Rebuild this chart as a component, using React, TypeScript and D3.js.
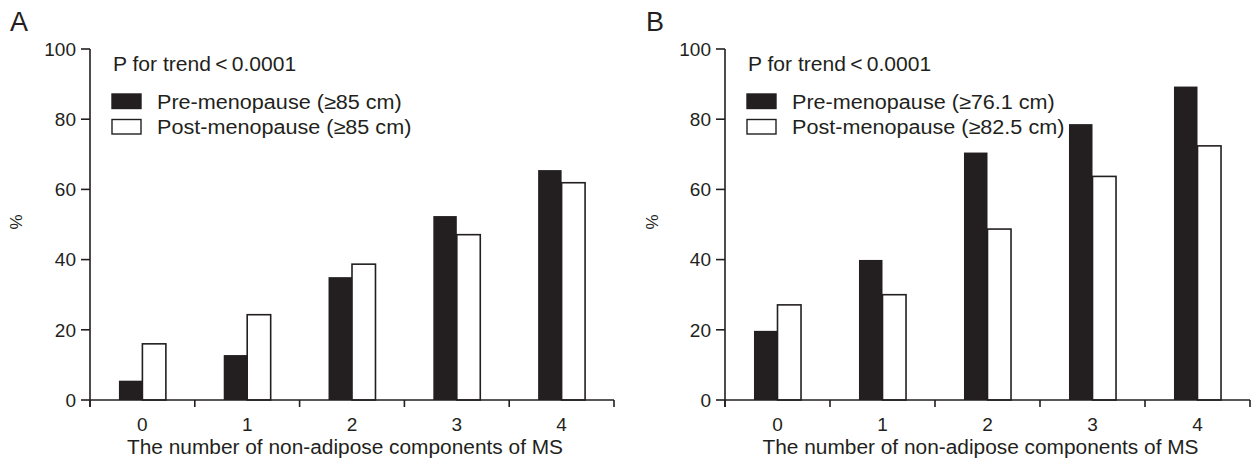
import { useEffect, useRef } from "react";
import { select, scaleBand, scaleLinear } from "d3";

const categories = ["0", "1", "2", "3", "4"];
const yTicks = [0, 20, 40, 60, 80, 100];

const preA = [5.5, 12.8, 35.0, 52.4, 65.5];
const postA = [16.0, 24.3, 38.7, 47.1, 61.9];
const preB = [19.7, 39.9, 70.5, 78.6, 89.3];
const postB = [27.1, 30.0, 48.7, 63.7, 72.4];

const legendA = ["Pre-menopause (\u226585 cm)", "Post-menopause (\u226585 cm)"];
const legendB = ["Pre-menopause (\u226576.1 cm)", "Post-menopause (\u226582.5 cm)"];

const trendText = "P for trend\u2009<\u20090.0001";
const xTitle = "The number of non-adipose components of MS";

const W = 1257;
const H = 460;
const INK = "#231f20";
const FONT = "'Liberation Sans', Arial, sans-serif";

const panels = [
  { letter: "A", left: 90, right: 614, pre: preA, post: postA, legend: legendA, letterX: 10, ylabX: 22 },
  { letter: "B", left: 725, right: 1250, pre: preB, post: postB, legend: legendB, letterX: 646, ylabX: 658 },
];

// the source font is a bit wider than Liberation Sans, so stretch text horizontally
function stretch(sel: any, k: number) {
  const node = sel.node() as SVGTextElement;
  const len = node.getComputedTextLength();
  sel.attr("textLength", len * k).attr("lengthAdjust", "spacingAndGlyphs");
}

export default function App() {
  const svgRef = useRef<SVGSVGElement>(null);

  useEffect(() => {
    const svg = select(svgRef.current);
    svg.selectAll("*").remove();

    const y = scaleLinear().domain([0, 100]).range([400, 49]);

    panels.forEach(p => {
      const g = svg.append("g");
      const x = scaleBand().domain(categories).range([p.left, p.right]).padding(0);
      const bw = x.bandwidth();
      const half = bw * 0.224;
      const sub = scaleBand().domain(["pre", "post"]).range([bw / 2 - half, bw / 2 + half]).padding(0);

      // panel letter
      g.append("text")
        .attr("x", p.letterX)
        .attr("y", 31)
        .attr("font-size", 27)
        .attr("font-family", FONT)
        .attr("fill", INK)
        .text(p.letter);

      // bars
      categories.forEach((c, i) => {
        g.append("rect")
          .attr("x", x(c)! + sub("pre")!)
          .attr("y", y(p.pre[i]))
          .attr("width", sub.bandwidth())
          .attr("height", y(0) - y(p.pre[i]))
          .attr("fill", INK);
        g.append("rect")
          .attr("x", x(c)! + sub("post")!)
          .attr("y", y(p.post[i]))
          .attr("width", sub.bandwidth())
          .attr("height", y(0) - y(p.post[i]))
          .attr("fill", "#fff")
          .attr("stroke", INK)
          .attr("stroke-width", 1.6);
      });

      // y axis
      g.append("line")
        .attr("x1", p.left).attr("x2", p.left)
        .attr("y1", y(100)).attr("y2", y(0) + 7)
        .attr("stroke", INK).attr("stroke-width", 1.6);
      yTicks.forEach(t => {
        g.append("line")
          .attr("x1", p.left - 9).attr("x2", p.left)
          .attr("y1", y(t)).attr("y2", y(t))
          .attr("stroke", INK).attr("stroke-width", 1.6);
        g.append("text")
          .attr("x", p.left - 14)
          .attr("y", y(t))
          .attr("dy", "0.36em")
          .attr("text-anchor", "end")
          .attr("font-size", 19)
          .attr("font-family", FONT)
          .attr("fill", INK)
          .text(t);
      });

      // x axis
      g.append("line")
        .attr("x1", p.left).attr("x2", p.right)
        .attr("y1", y(0)).attr("y2", y(0))
        .attr("stroke", INK).attr("stroke-width", 1.6);
      [...categories.map(c => x(c)!), p.right].forEach(bx => {
        g.append("line")
          .attr("x1", bx).attr("x2", bx)
          .attr("y1", y(0)).attr("y2", y(0) + 7)
          .attr("stroke", INK).attr("stroke-width", 1.6);
      });
      categories.forEach(c => {
        g.append("text")
          .attr("x", x(c)! + bw / 2)
          .attr("y", 431)
          .attr("text-anchor", "middle")
          .attr("font-size", 19)
          .attr("font-family", FONT)
          .attr("fill", INK)
          .text(c);
      });
      const title = g.append("text")
        .attr("x", (p.left + p.right) / 2 - 7)
        .attr("y", 454)
        .attr("text-anchor", "middle")
        .attr("font-size", 19.5)
        .attr("font-family", FONT)
        .attr("fill", INK)
        .text(xTitle);
      stretch(title, 1.07);

      // y label
      g.append("text")
        .attr("transform", `translate(${p.ylabX},222) rotate(-90)`)
        .attr("text-anchor", "middle")
        .attr("font-size", 17)
        .attr("font-family", FONT)
        .attr("fill", INK)
        .text("%");

      // legend
      const lx = p.left + 22;
      const trend = g.append("text")
        .attr("x", lx + 1)
        .attr("y", 71)
        .attr("font-size", 19.5)
        .attr("font-family", FONT)
        .attr("fill", INK)
        .text(trendText);
      stretch(trend, 1.08);
      [0, 1].forEach(k => {
        const ty = 94 + k * 25.5;
        g.append("rect")
          .attr("x", lx)
          .attr("y", ty)
          .attr("width", 29)
          .attr("height", 14.5)
          .attr("fill", k === 0 ? INK : "#fff")
          .attr("stroke", INK)
          .attr("stroke-width", 1.4);
        const lt = g.append("text")
          .attr("x", lx + 45)
          .attr("y", ty + 14.5)
          .attr("font-size", 20)
          .attr("font-family", FONT)
          .attr("fill", INK)
          .text(p.legend[k]);
        stretch(lt, 1.08);
      });
    });
  }, []);

  return (
    <svg
      ref={svgRef}
      width={W}
      height={H}
      viewBox={`0 0 ${W} ${H}`}
      style={{ position: "absolute", left: 0, top: 0, background: "#fff" }}
    />
  );
}
